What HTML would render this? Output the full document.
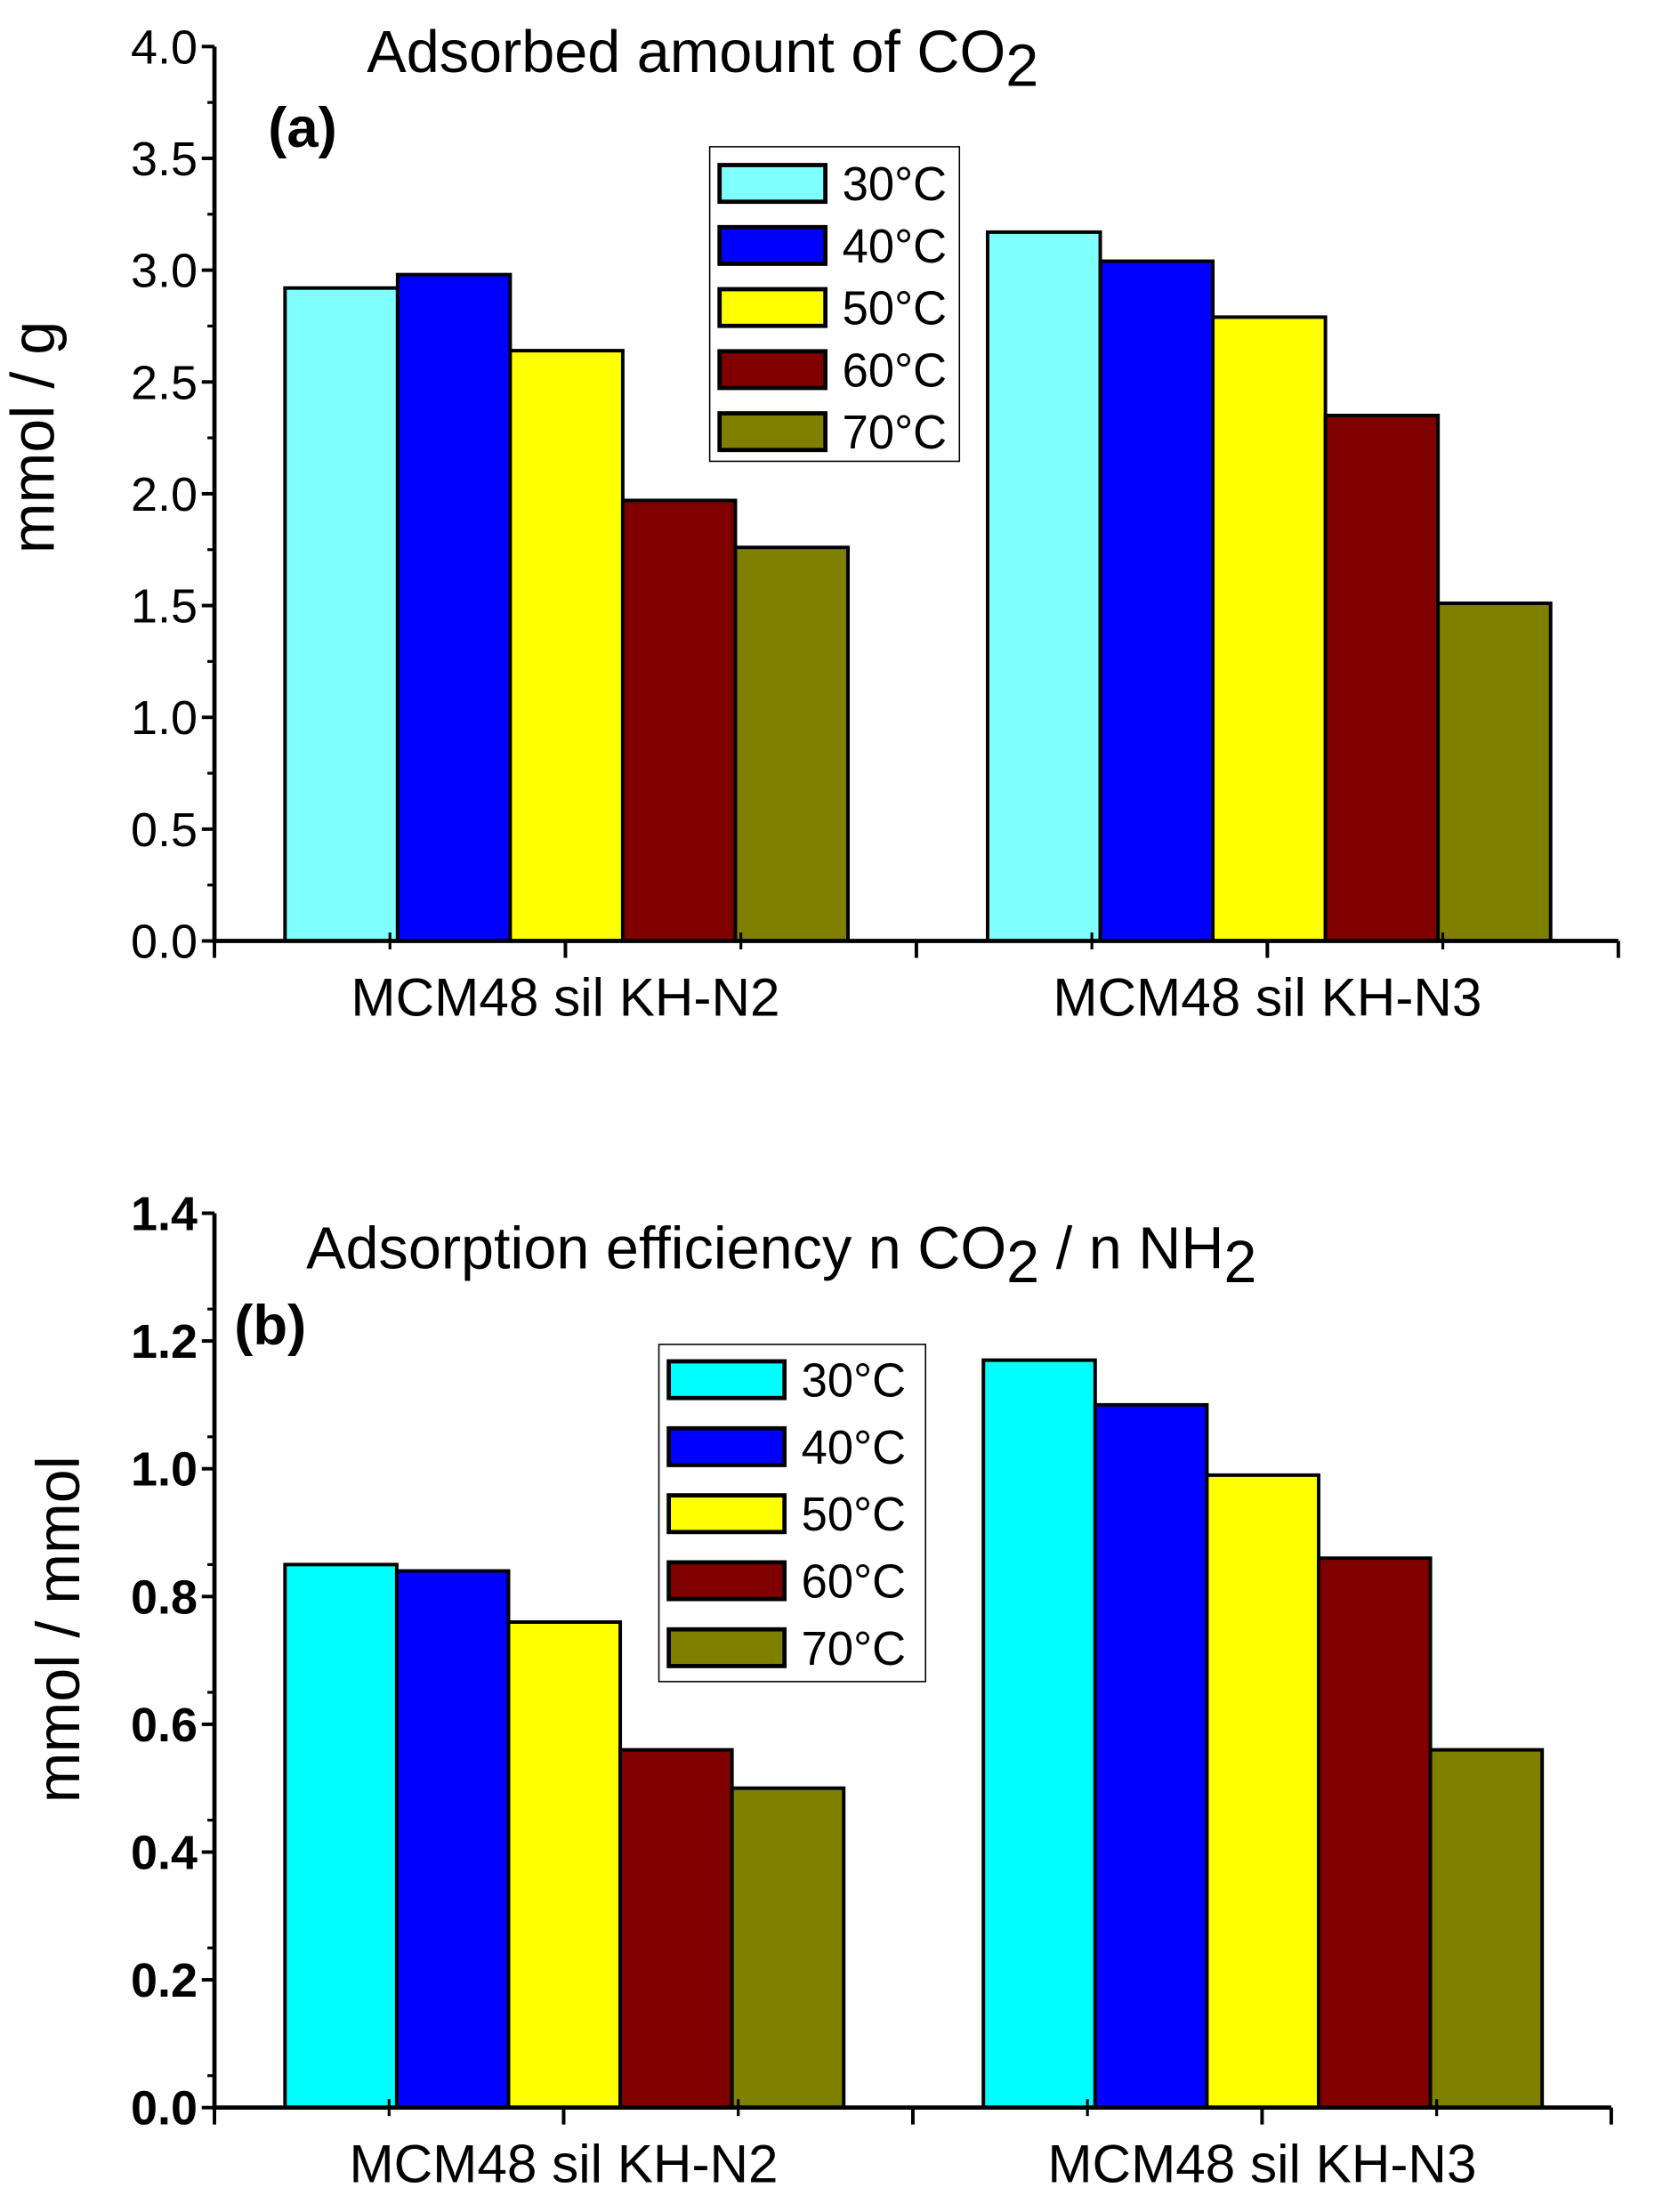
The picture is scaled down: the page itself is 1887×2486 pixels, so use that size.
<!DOCTYPE html>
<html><head><meta charset="utf-8"><style>html,body{margin:0;padding:0;background:#fff}svg{display:block}</style></head>
<body>
<svg id="fig" width="1887" height="2486" viewBox="0 0 1190 1568" preserveAspectRatio="none" xmlns="http://www.w3.org/2000/svg" font-family="Liberation Sans, sans-serif"></svg>
<script>
const categories = ["MCM48 sil KH-N2", "MCM48 sil KH-N3"];
const seriesNames = ["30°C", "40°C", "50°C", "60°C", "70°C"];
const aValuesN2 = [2.92, 2.98, 2.64, 1.97, 1.76];
const aValuesN3 = [3.17, 3.04, 2.79, 2.35, 1.51];
const bValuesN2 = [0.85, 0.84, 0.76, 0.56, 0.50];
const bValuesN3 = [1.17, 1.10, 0.99, 0.86, 0.56];
const aTicks = ["0.0","0.5","1.0","1.5","2.0","2.5","3.0","3.5","4.0"];
const bTicks = ["0.0","0.2","0.4","0.6","0.8","1.0","1.2","1.4"];

const NS = "http://www.w3.org/2000/svg";
const svg = document.getElementById('fig');
function mk(tag, attrs, parent, text) {
  const e = document.createElementNS(NS, tag);
  for (const k in attrs) e.setAttribute(k, attrs[k]);
  if (text !== undefined) e.textContent = text;
  (parent || svg).appendChild(e);
  return e;
}

function chart(o) {
  const g = mk('g', {});
  
  
  const yScale = v => o.y0 - (v / o.ymax) * (o.y0 - o.ytop);
  const groups = [o.v1, o.v2];
  const bw = (o.g1end - o.g1start) / 5;
  groups.forEach((vals, gi) => {
    const start = gi === 0 ? o.g1start : o.g2start;
    vals.forEach((v, si) => {
      const r = mk('rect', {x: start + si * bw, y: yScale(v), width: bw, height: o.y0 - yScale(v), fill: o.colors[si], stroke: '#000', 'stroke-width': 2.5}, g);
      
      
    });
  });
  const ax = mk('path', {d: `M${o.x0},${o.ytop} V${o.y0} H${o.x1}`, stroke: '#000', 'stroke-width': 3, fill: 'none'}, g);
  
  
  const n = o.ticks.length;
  for (let i = 0; i < n; i++) {
    const v = parseFloat(o.ticks[i]);
    const y = yScale(v);
    mk('line', {x1: o.x0 - 9, x2: o.x0, y1: y, y2: y, stroke: '#000', 'stroke-width': 2.5}, g);
    if (i < n - 1) {
      const ym = yScale(v + o.step / 2);
      mk('line', {x1: o.x0 - 5, x2: o.x0, y1: ym, y2: ym, stroke: '#000', 'stroke-width': 2}, g);
    }
    const t = mk('text', {x: o.x0 - 12, y: y + 12, 'text-anchor': 'end', 'font-size': 34, 'font-weight': o.boldTicks ? 'bold' : 'normal'}, g, o.ticks[i]);
    
    
  }
  for (let i = 0; i <= 8; i++) {
    const x = o.x0 + (o.x1 - o.x0) * i / 8;
    const major = i % 2 === 0;
    mk('line', {x1: x, x2: x, y1: o.y0, y2: o.y0 + (major ? 12 : 0), stroke: '#000', 'stroke-width': 2.5}, g);
    if (!major) mk('line', {x1: x, x2: x, y1: o.y0 - 6, y2: o.y0 + 6, stroke: '#000', 'stroke-width': 2}, g);
  }
  categories.forEach((c, i) => {
    const x = o.x0 + (o.x1 - o.x0) * (0.25 + 0.5 * i);
    const t = mk('text', {x: x, y: o.y0 + 53, 'text-anchor': 'middle', 'font-size': 38}, g, c);
    
    
  });
  const yt = mk('text', {x: 0, y: 0, transform: `translate(${o.ytx},${o.yty}) rotate(-90)`, 'text-anchor': 'middle', 'font-size': 43}, g, o.ytitle);
  
  
  const tt = mk('text', {x: o.tx, y: o.ty, 'font-size': 42}, g);
  
  
  o.title.forEach(p => {
    if (p.sub) mk('tspan', {dy: 10}, tt, p.t);
    else mk('tspan', {dy: p.up ? -10 : 0}, tt, p.t);
  });
  const pl = mk('text', {x: o.px, y: o.py, 'font-size': 40, 'font-weight': 'bold'}, g, o.panel);
  
  
  const lg = mk('g', {}, g);
  
  
  mk('rect', {x: o.lx, y: o.ly, width: o.lw, height: o.lh, fill: '#fff', stroke: '#000', 'stroke-width': 1}, lg);
  seriesNames.forEach((s, i) => {
    const cy = o.ly + o.lfirst + i * o.lstep;
    const sw = mk('rect', {x: o.lx + 7, y: cy - 13, width: o.sww, height: 26, fill: o.colors[i], stroke: '#000', 'stroke-width': 3}, lg);
    
    
    const lt = mk('text', {x: o.lx + o.sww + 19, y: cy + 12, 'font-size': 34, 'textLength': 74, 'lengthAdjust': 'spacingAndGlyphs'}, lg, s);
    
    
  });
}

chart({name: 'chart-a', x0: 152, x1: 1147, y0: 667, ytop: 33, ymax: 4.0, step: 0.5, ticks: aTicks,
  g1start: 202, g1end: 601, g2start: 700, v1: aValuesN2, v2: aValuesN3,
  colors: ['#80ffff', '#0000ff', '#ffff00', '#800000', '#808000'], boldTicks: false,
  ytitle: 'mmol / g', ytx: 38, yty: 310,
  title: [{t: 'Adsorbed amount of CO'}, {t: '2', sub: true}], tx: 260, ty: 51,
  panel: '(a)', px: 190, py: 104,
  lx: 503, ly: 104, lw: 177, lh: 223, lfirst: 26, lstep: 44, sww: 75});

chart({name: 'chart-b', x0: 152, x1: 1142, y0: 1494, ytop: 860, ymax: 1.4, step: 0.1, ticks: bTicks,
  g1start: 202, g1end: 598, g2start: 697, v1: bValuesN2, v2: bValuesN3,
  colors: ['#00ffff', '#0000ff', '#ffff00', '#800000', '#808000'], boldTicks: true,
  ytitle: 'mmol / mmol', ytx: 56, yty: 1155,
  title: [{t: 'Adsorption efficiency n CO'}, {t: '2', sub: true}, {t: ' / n NH', up: true}, {t: '2', sub: true}], tx: 217, ty: 899,
  panel: '(b)', px: 166, py: 953,
  lx: 467, ly: 953, lw: 189, lh: 239, lfirst: 25, lstep: 47.5, sww: 82});
</script>
</body></html>
